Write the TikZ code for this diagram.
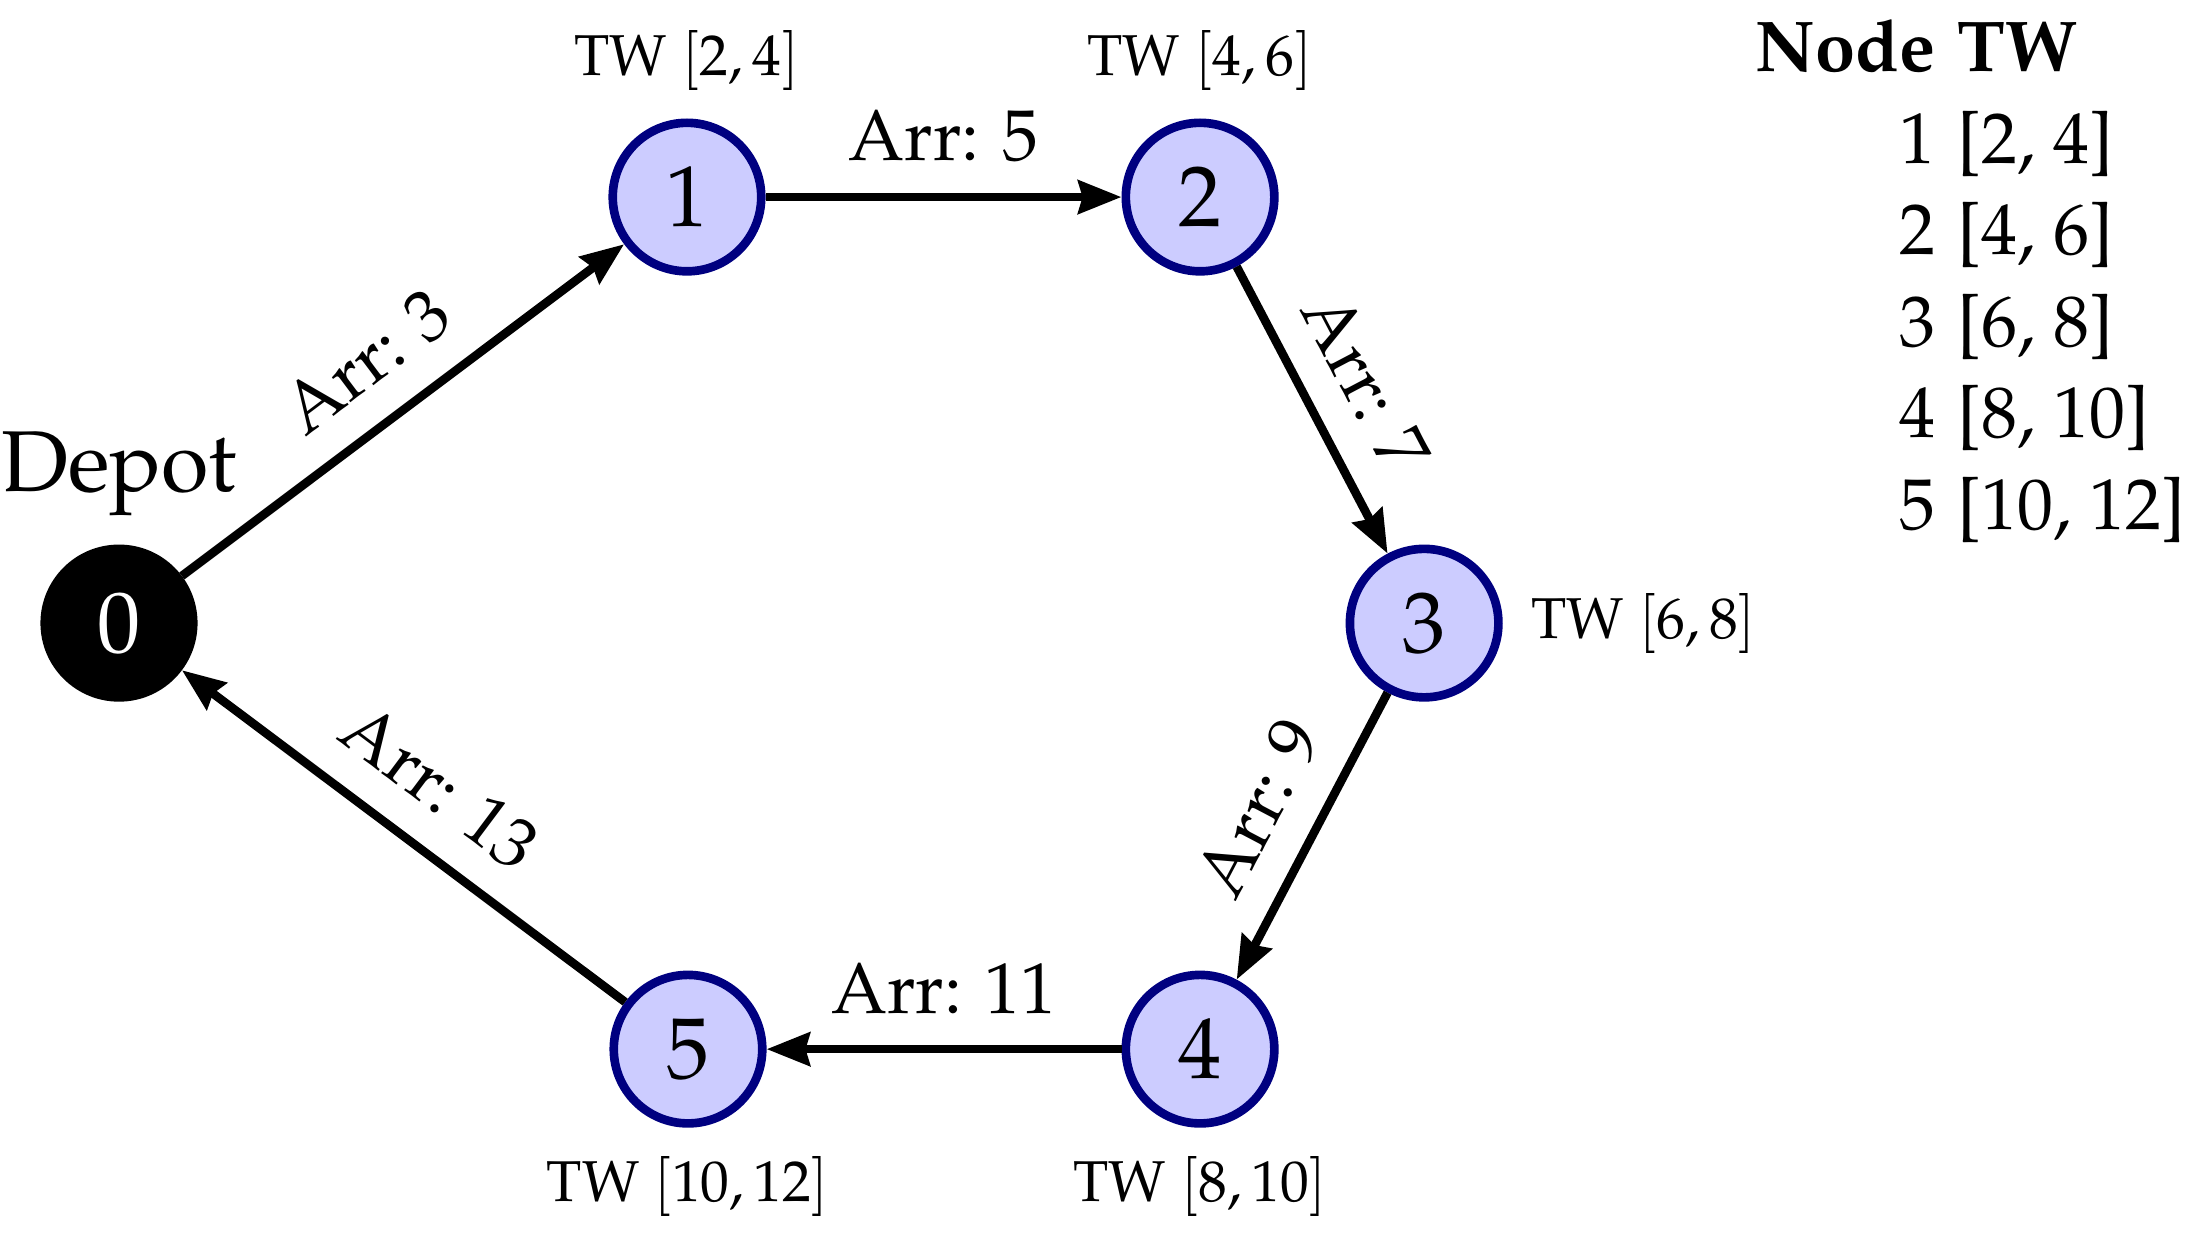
\documentclass[tikz,border=0pt]{standalone}
\usepackage[T1]{fontenc}
\usepackage{mathpazo}
\usepackage{xcolor}
\usepackage{tikz}
\usetikzlibrary{positioning,arrows.meta}

\begin{document}
\begin{tikzpicture}[->,>={Stealth[length=6pt,width=4.6pt,inset=0.6pt]},very thick,
                    cust node/.style={circle,draw=blue!50!black,fill=blue!20,
                    font=\large,minimum size=0.725cm,inner sep=0pt},
                    tw/.style={font=\footnotesize}]
\useasboundingbox (0,0) rectangle (10.78,-6.055);

\node[circle,draw,fill=black,text=white,font=\large,minimum size=0.725cm,inner sep=0pt,
      label={[font=\large]above:Depot}] (D) at (0.581,-3.042) {0};
\node[cust node,label={[tw]above:TW $[2,4]$}] (C1) at (3.354,-0.962) {1};
\node[cust node,label={[tw]above:TW $[4,6]$}] (C2) at (5.859,-0.962) {2};
\node[cust node,label={[tw]right:TW $[6,8]$}] (C3) at (6.953,-3.042) {3};
\node[cust node,label={[tw]below:TW $[8,10]$}] (C4) at (5.859,-5.122) {4};
\node[cust node,label={[tw]below:TW $[10,12]$}] (C5) at (3.359,-5.122) {5};

\path[every node/.style={above=1pt,sloped}]
    (D)  edge node {Arr: 3} (C1)
    (C1) edge node {Arr: 5} (C2)
    (C2) edge node {Arr: 7} (C3)
    (C3) edge node {Arr: 9} (C4)
    (C4) edge node {Arr: 11} (C5)
    (C5) edge node {Arr: 13} (D);

% time windows at a glance
\node[anchor=north east,inner sep=0pt] (tab) at (10.69,-0.015) {
\renewcommand{\arraystretch}{1.06}%
\begin{tabular}{@{}r@{\hspace{3pt}}l@{}}
\textbf{Node} & \textbf{TW} \\
1 & [2, 4] \\
2 & [4, 6] \\
3 & [6, 8] \\
4 & [8, 10] \\
5 & [10, 12]
\end{tabular}
};

\end{tikzpicture}
\end{document}
